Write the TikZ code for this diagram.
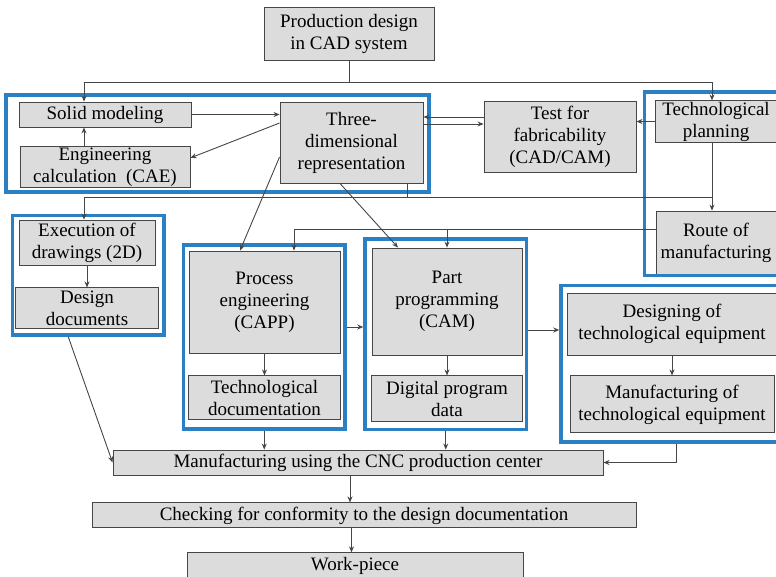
\documentclass[tikz,border=0pt]{standalone}
\usepackage{fontspec}
\setmainfont{Liberation Serif}
\usetikzlibrary{arrows.meta,positioning,fit}
\definecolor{boxgray}{RGB}{220,220,220}
\definecolor{edgegray}{RGB}{70,70,70}
\definecolor{grpblue}{RGB}{43,128,196}
\tikzset{
  box/.style={draw=edgegray, fill=boxgray, rectangle, align=center, font=\fontsize{19}{22}\selectfont, inner sep=1pt, line width=0.9pt},
  grp/.style={draw=grpblue, rectangle, line width=3.5pt, inner sep=0pt},
  arr/.style={-{Stealth[length=6pt,width=5pt]}, draw=edgegray, line width=0.9pt},
  ln/.style={draw=edgegray, line width=0.9pt},
}

\begin{document}
\begin{tikzpicture}[x=1pt, y=-1pt]
\useasboundingbox (0,0) rectangle (776,576);
\node[box, minimum width=170pt, minimum height=53pt] (pd) at (349,33.5) {Production design\\in CAD system};
\node[box, minimum width=172pt, minimum height=25pt] (sm) at (105,114.5) {Solid modeling};
\node[box, below=19pt of sm, minimum width=170pt, minimum height=41pt] (cae) {Engineering\\calculation\ \ (CAE)};
\node[box, minimum width=143pt, minimum height=81pt] (tdr) at (351.5,142.5) {Three-\\dimensional\\representation};
\node[box, minimum width=152pt, minimum height=71pt] (tf) at (560,136.5) {Test for\\fabricability\\(CAD/CAM)};
\node[box, minimum width=122pt, minimum height=41pt] (tp) at (716,121.5) {Technological\\planning};
\node[box, below=68pt of tp, minimum width=120pt, minimum height=63pt] (rm) {Route of\\manufacturing};
\node[box, minimum width=136pt, minimum height=45pt] (ex) at (87,242.5) {Execution of\\drawings (2D)};
\node[box, below=22pt of ex, minimum width=143pt, minimum height=41pt] (dd) {Design\\documents};
\node[box, minimum width=151pt, minimum height=102pt] (pe) at (264.5,302) {Process\\engineering\\(CAPP)};
\node[box, below=22pt of pe, minimum width=152pt, minimum height=44pt] (td) {Technological\\documentation};
\node[box, minimum width=150pt, minimum height=107pt] (pp) at (447,301.5) {Part\\programming\\(CAM)};
\node[box, below=20pt of pp, minimum width=151pt, minimum height=46pt] (dpd) {Digital program\\data};
\node[box, minimum width=209pt, minimum height=62pt] (dte) at (672,324) {Designing of\\technological equipment};
\node[box, below=20pt of dte, minimum width=204pt, minimum height=57pt] (mte) {Manufacturing of\\technological equipment};
\node[box, minimum width=490pt, minimum height=25pt] (mfg) at (358,462.5) {Manufacturing using the CNC production center};
\node[box, below=27pt of mfg, xshift=6pt, minimum width=544pt, minimum height=25pt] (chk) {Checking for conformity to the design documentation};
\node[box, below=24pt of chk, xshift=-9pt, minimum width=336pt, minimum height=27pt] (wp) {Work-piece};
% blue groups
\node[grp, fit={(6,95) (429,192)}] (gdes) {};
\node[grp, fit={(644.5,92) (800,275.5)}] (gtp) {};
\node[grp, fit={(12.5,215.5) (164,335)}] (gex) {};
\node[grp, fit={(183.5,245) (345,429)}] (gpe) {};
\node[grp, fit={(365,239) (526.5,429.5)}] (gpp) {};
\node[grp, fit={(561,285.5) (800,442)}] (gdte) {};
\coordinate (jtop) at (pd.south |- 0,82);
\coordinate (jmid) at ([xshift=-4pt]tp.south |- 0,197);
\coordinate (jroute) at ([yshift=13.5pt]rm.west);
\draw[ln] (pd.south) -- (jtop);
\draw[arr] (jtop) -| ([xshift=-21pt]sm.north);
\draw[arr] (jtop) -| ([xshift=-4pt]tp.north);
\draw[arr] ([xshift=-21pt]cae.north) -- ([xshift=-21pt]cae.north |- sm.south);
\draw[arr] (sm.east) -- (sm.east -| tdr.west);
\draw[arr] ([yshift=19.5pt]tdr.west) -- ([yshift=9.5pt]cae.east);
\draw[arr] ([yshift=19.5pt]tf.west) -- ([yshift=19.5pt]tf.west -| tdr.east);
\draw[arr] ([yshift=12.5pt]tf.west -| tdr.east) -- ([yshift=12.5pt]tf.west);
\draw[arr] (tp.west) -- (tp.west -| tf.east);
\draw[arr] ([xshift=-4pt]tp.south) -- ([xshift=-4pt]tp.south |- rm.north);
\draw[ln] ([xshift=55.5pt]tdr.south) -- ([xshift=55.5pt]tdr.south |- jmid);
\draw[arr] (jmid) -| ([xshift=-3pt]ex.north);
\draw[arr] (jroute) -| ([xshift=29.5pt]pe.north);
\draw[arr] (jroute) -| (pp.north);
\draw[arr] ([yshift=-14.5pt]tdr.west) -- ([xshift=-24.5pt]pe.north);
\draw[arr] ([xshift=-11.5pt]tdr.south) -- ([xshift=-49pt]pp.north);
\draw[arr] (ex) -- (dd);
\draw[arr] (pe) -- (td);
\draw[arr] (pp) -- (dpd);
\draw[arr] (dte) -- (mte);
\draw[arr] ([yshift=-25pt]pe.east -| gpe.east) -- ([yshift=-25pt]pe.east -| gpp.west);
\draw[arr] ([yshift=-28.5pt]pp.east -| gpp.east) -- ([yshift=-28.5pt]pp.east -| gdte.west);
\draw[arr] ([xshift=-20pt]gex.south) -- (mfg.west);
\draw[arr] (gpe.south) -- (gpe.south |- mfg.north);
\draw[arr] (gpp.south) -- (gpp.south |- mfg.north);
\draw[arr] ([xshift=-4.5pt]gdte.south) |- (mfg.east);
\draw[arr] ([xshift=-8pt]mfg.south) -- ([xshift=-8pt]mfg.south |- chk.north);
\draw[arr] ([xshift=-12.5pt]chk.south) -- ([xshift=-12.5pt]chk.south |- wp.north);
\end{tikzpicture}
\end{document}
